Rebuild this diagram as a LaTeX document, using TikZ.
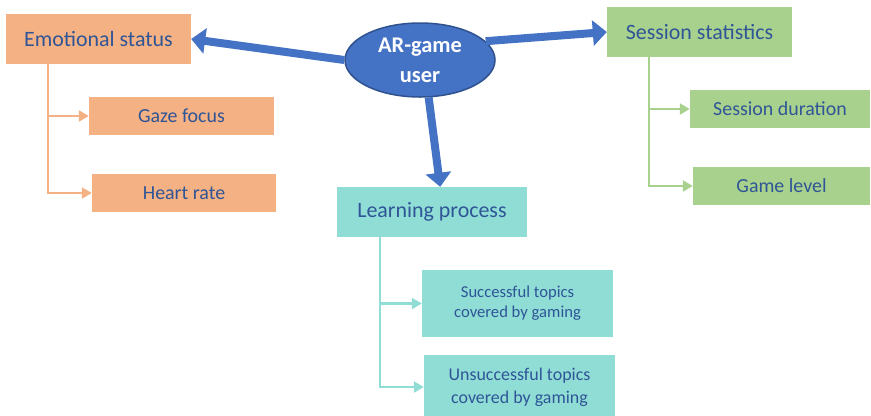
\documentclass[tikz,border=0pt]{standalone}
\usepackage{fontspec}
\setmainfont{Carlito}
\usetikzlibrary{arrows.meta,shapes.geometric}
\definecolor{hubblue}{HTML}{4472C4}
\definecolor{hubedge}{HTML}{2F528F}
\definecolor{txtblue}{HTML}{2F5597}
\definecolor{orangefill}{HTML}{F4B183}
\definecolor{greenfill}{HTML}{A9D18E}
\definecolor{tealfill}{HTML}{8FDDD5}
\tikzset{
  box/.style={rectangle, inner sep=0pt, draw=none, text=txtblue, align=center},
  headfont/.style={font=\fontsize{22}{26}\selectfont},
  leaffont/.style={font=\fontsize{20}{24}\selectfont},
  bigarrow/.style={draw=hubblue, line width=8bp, -{Triangle[width=25bp,length=14bp]}},
  branch/.style={line width=2.3bp, -{Triangle[width=11bp,length=10bp]}},
}
\begin{document}
\begin{tikzpicture}[x=1bp,y=-1bp]
\useasboundingbox (0,0) rectangle (871,415);
\clip (0,0) rectangle (871,415);

% central user node
\node[ellipse, fill=hubblue, draw=hubedge, line width=1.5bp, minimum width=150bp, minimum height=74bp,
      inner sep=0pt, text=white, align=center,
      font=\bfseries\fontsize{22.5}{30}\selectfont] (user) at (420,60) {AR-game\\user};

% category boxes
\node[box, headfont, fill=orangefill, minimum width=185bp, minimum height=50bp] (emo) at (98.5,39) {Emotional status};
\node[box, headfont, fill=greenfill, minimum width=185bp, minimum height=50bp] (sess) at (699.5,32) {Session statistics};
\node[box, headfont, fill=tealfill, minimum width=190bp, minimum height=50bp] (learn) at (432,212) {Learning process};

% leaf boxes
\node[box, leaffont, fill=orangefill, minimum width=185bp, minimum height=38bp] (gaze) at (181.5,116) {Gaze focus};
\node[box, leaffont, fill=orangefill, minimum width=184bp, minimum height=38bp] (heart) at (184,193) {Heart rate};
\node[box, leaffont, fill=greenfill, minimum width=180bp, minimum height=38bp] (dur) at (780,109) {Session duration};
\node[box, leaffont, fill=greenfill, minimum width=177bp, minimum height=38bp] (level) at (781.5,186) {Game level};
\node[box, fill=tealfill, minimum width=191bp, minimum height=67bp,
      font=\fontsize{16.7}{20}\selectfont] (succ) at (517.5,303.5) {Successful topics\\covered by gaming};
\node[box, fill=tealfill, minimum width=191bp, minimum height=64bp,
      font=\fontsize{18}{23}\selectfont] (unsucc) at (519.5,387) {Unsuccessful topics\\covered by gaming};

% thick arrows from the user
\draw[bigarrow] (user.west) -- (emo.east);
\draw[bigarrow] (user.16) -- (sess.west);
\draw[bigarrow] (user.-77) -- (learn.72);

% branch connectors
\draw[branch, draw=orangefill] ([xshift=42bp]emo.south west) |- (gaze.west);
\draw[branch, draw=orangefill] ([xshift=42bp]emo.south west) |- (heart.west);
\draw[branch, draw=greenfill] ([xshift=42bp]sess.south west) |- (dur.west);
\draw[branch, draw=greenfill] ([xshift=42bp]sess.south west) |- (level.west);
\draw[branch, draw=tealfill] ([xshift=43bp]learn.south west) |- (succ.west);
\draw[branch, draw=tealfill] ([xshift=43bp]learn.south west) |- (unsucc.west);
\end{tikzpicture}
\end{document}
